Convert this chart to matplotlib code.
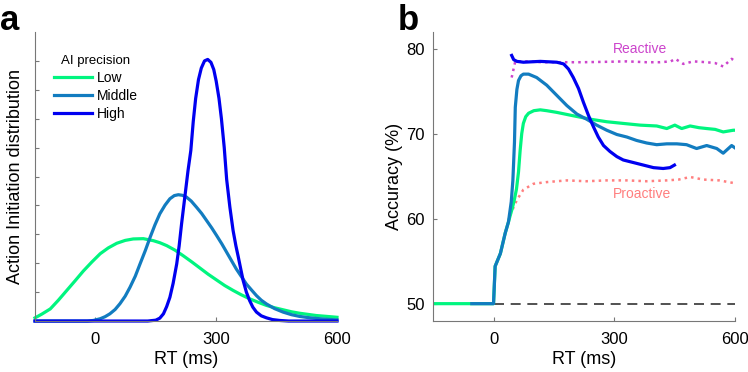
import matplotlib.pyplot as plt

plt.rcParams["font.family"] = ["Liberation Sans", "DejaVu Sans"]

# ---- panel a: action initiation distributions ----
rt_low = [-150, -133, -112, -92, -71, -50, -30, -9, 12, 32, 53, 74, 94, 119,
          144, 160, 177, 198, 218, 239, 260, 280, 301, 321, 342, 362, 383,
          404, 425, 445, 466, 487, 507, 528, 549, 575, 600]
dist_low = [0.11, 0.24, 0.42, 0.72, 1.06, 1.40, 1.73, 2.04, 2.33, 2.53, 2.69,
            2.79, 2.84, 2.85, 2.78, 2.71, 2.61, 2.45, 2.26, 2.05, 1.83, 1.62,
            1.42, 1.23, 1.06, 0.91, 0.77, 0.65, 0.54, 0.46, 0.39, 0.32, 0.27,
            0.23, 0.19, 0.16, 0.13]

rt_mid = [-150, -20, -5, 12, 24, 36, 49, 61, 74, 86, 99, 111, 124, 136, 148,
          160, 173, 185, 196, 206, 216, 226, 238, 251, 264, 276, 289, 301,
          314, 326, 338, 350, 363, 375, 388, 400, 412, 425, 445, 466, 487,
          507, 528, 549, 575, 600]
dist_mid = [0.0, 0.0, 0.02, 0.08, 0.15, 0.25, 0.40, 0.60, 0.86, 1.17, 1.55,
            1.98, 2.44, 2.90, 3.33, 3.71, 4.01, 4.23, 4.34, 4.37, 4.35, 4.29,
            4.15, 3.94, 3.72, 3.48, 3.22, 2.96, 2.67, 2.38, 2.09, 1.80, 1.53,
            1.28, 1.07, 0.88, 0.72, 0.59, 0.43, 0.31, 0.22, 0.16, 0.12, 0.09,
            0.06, 0.04]

rt_high = [-150, 130, 150, 160, 169, 177, 185, 193, 202, 208, 214, 222, 230,
           237, 243, 249, 256, 263, 271, 279, 287, 294, 300, 307, 313, 320,
           326, 334, 342, 349, 355, 361, 367, 375, 383, 391, 400, 412, 425,
           440, 458, 480, 600]
dist_high = [0.0, 0.0, 0.03, 0.1, 0.25, 0.5, 0.82, 1.3, 1.98, 2.6, 3.36, 4.28,
             5.2, 5.9, 6.9, 7.7, 8.35, 8.75, 9.0, 9.05, 8.95, 8.7, 8.3, 7.7,
             7.0, 6.0, 4.9, 3.94, 3.13, 2.6, 2.21, 1.8, 1.4, 1.0, 0.71, 0.48,
             0.31, 0.18, 0.11, 0.05, 0.02, 0.0, 0.0]

# ---- panel b: accuracy by RT ----
rt_acc_low = [-150, 0, 4, 17, 29, 37, 41, 47, 52, 57, 62, 66, 70, 74, 80, 87,
              100, 116, 132, 157, 198, 240, 281, 322, 364, 405, 430, 450, 467,
              488, 510, 529, 550, 570, 595, 600]
acc_low = [50, 50, 54.4, 55.9, 58.3, 59.6, 60.3, 61.3, 62.3, 63.5, 65.5, 68.0,
           70.0, 71.2, 72.0, 72.4, 72.7, 72.8, 72.7, 72.5, 72.1, 71.7, 71.4,
           71.2, 71.0, 70.9, 70.6, 71.0, 70.6, 70.9, 70.7, 70.6, 70.5, 70.2,
           70.4, 70.4]

rt_acc_mid = [-54, 0, 4, 17, 29, 37, 44, 48, 52, 54, 58, 62, 68, 74, 87, 107,
              132, 157, 182, 207, 231, 256, 281, 306, 331, 355, 380, 405, 430,
              455, 479, 504, 529, 554, 570, 591, 600]
acc_mid = [50, 50, 54.4, 55.9, 58.3, 59.6, 62.0, 64.5, 69.0, 73.1, 75.2, 76.25,
           76.8, 77.0, 77.0, 76.6, 75.7, 74.5, 73.3, 72.3, 71.7, 71.0, 70.4,
           69.9, 69.6, 69.2, 68.9, 68.7, 68.8, 68.8, 68.7, 68.25, 68.6, 68.25,
           67.7, 68.6, 68.3]

rt_acc_high = [45, 50, 58, 74, 116, 157, 174, 186, 198, 211, 223, 236, 248,
               260, 273, 289, 306, 322, 347, 372, 397, 421, 438, 449]
acc_high = [79.2, 78.7, 78.5, 78.4, 78.5, 78.4, 78.2, 77.6, 76.6, 75.3, 73.7,
            72.1, 70.8, 69.6, 68.6, 67.9, 67.3, 66.9, 66.6, 66.3, 66.0, 65.9,
            66.0, 66.3]

rt_reactive = [45, 54, 80, 120, 165, 220, 280, 331, 380, 413, 440, 451, 471,
               496, 529, 550, 570, 591, 600]
acc_reactive = [76.6, 78.5, 78.5, 78.4, 78.4, 78.4, 78.45, 78.5, 78.4, 78.4,
                78.5, 78.8, 78.2, 78.5, 78.4, 78.3, 77.9, 78.8, 78.5]

rt_proactive = [41, 58, 74, 99, 132, 182, 230, 280, 331, 380, 430, 460, 488,
                520, 560, 595, 600]
acc_proactive = [60.4, 62.2, 63.4, 64.1, 64.3, 64.5, 64.4, 64.5, 64.5, 64.4,
                 64.5, 64.6, 64.9, 64.6, 64.5, 64.2, 64.2]

chance_rt = [0, 600]
chance_acc = [50, 50]

c_low = "#00f57f"
c_mid = "#127cc0"
c_high = "#0000f0"
c_react = "#cc44cc"
c_pro = "#ff7f7f"
spine_col = "#777777"

fig = plt.figure(figsize=(7.48, 3.72), dpi=100)
ax1 = fig.add_axes([0.0468, 0.137, 0.4037, 0.777])
ax2 = fig.add_axes([0.579, 0.138, 0.404, 0.777])

for ax in (ax1, ax2):
    for s in ("top", "right"):
        ax.spines[s].set_visible(False)
    for s in ("left", "bottom"):
        ax.spines[s].set_color(spine_col)
        ax.spines[s].set_linewidth(0.8)
    ax.tick_params(direction="in", length=3, color=spine_col, labelsize=12)
    ax.tick_params(axis="x", pad=8)
    ax.tick_params(axis="y", pad=6)
    ax.set_xlim(-150, 600)
    ax.set_xticks([0, 300, 600])
    ax.set_xlabel("RT (ms)", fontsize=13, labelpad=3)

# panel a
ax1.plot(rt_low, dist_low, color=c_low, lw=2.3, label="Low", clip_on=False)
ax1.plot(rt_mid, dist_mid, color=c_mid, lw=2.3, label="Middle", clip_on=False)
ax1.plot(rt_high, dist_high, color=c_high, lw=2.3, label="High", clip_on=False)
ax1.set_ylim(0, 10)
ax1.set_yticks(range(1, 10))
ax1.set_yticklabels([])
ax1.set_ylabel("Action Initiation distribution", fontsize=13, labelpad=2)
ax1.legend(title="AI precision", loc="upper left", bbox_to_anchor=(0.02, 0.965),
           frameon=False, fontsize=10, title_fontsize=9.5, handlelength=2.8,
           handletextpad=0.3, labelspacing=0.3)

# panel b
ax2.plot(chance_rt, chance_acc, color="#333333", lw=1.2, ls=(0, (6, 4)))
ax2.plot(rt_reactive, acc_reactive, color=c_react, lw=1.8, ls=":")
ax2.plot(rt_proactive, acc_proactive, color=c_pro, lw=1.8, ls=":")
ax2.plot(rt_acc_low, acc_low, color=c_low, lw=2.3)
ax2.plot(rt_acc_mid, acc_mid, color=c_mid, lw=2.3)
ax2.plot(rt_acc_high, acc_high, color=c_high, lw=2.3)
ax2.set_ylim(48, 82)
ax2.set_yticks([50, 60, 70, 80])
ax2.set_ylabel("Accuracy (%)", fontsize=13, labelpad=2)
ax2.text(364, 79.9, "Reactive", color=c_react, fontsize=10, ha="center",
         va="center")
ax2.text(368, 62.9, "Proactive", color=c_pro, fontsize=10, ha="center",
         va="center")

fig.text(0.0, 0.99, "a", fontsize=25, fontweight="bold", va="top")
fig.text(0.532, 0.99, "b", fontsize=25, fontweight="bold", va="top")

fig.savefig("out.png", dpi=100)
